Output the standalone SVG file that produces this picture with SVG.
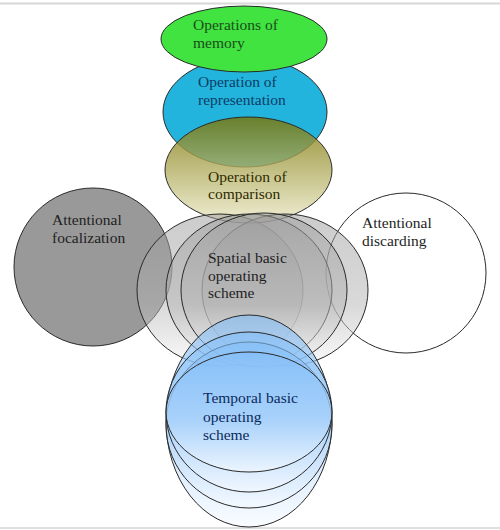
<svg xmlns="http://www.w3.org/2000/svg" width="500" height="530" viewBox="0 0 500 530">
<defs>
<linearGradient id="olive" x1="0" y1="0" x2="0" y2="1">
<stop offset="0" stop-color="#7a7300"/>
<stop offset="1" stop-color="#eceac8"/>
</linearGradient>
<linearGradient id="gray" x1="0" y1="0" x2="0" y2="1">
<stop offset="0" stop-color="#9a9a9a"/>
<stop offset="0.6" stop-color="#b4b4b4"/>
<stop offset="1" stop-color="#f4f4f4"/>
</linearGradient>
<linearGradient id="blue" x1="0" y1="0" x2="0" y2="1">
<stop offset="0" stop-color="#80bdf8"/>
<stop offset="0.55" stop-color="#a6d0fa"/>
<stop offset="1" stop-color="#f6faff"/>
</linearGradient>
</defs>
<style>
.o{stroke:#2a2a2a;stroke-width:1}
.t{font-family:"Liberation Serif","Times New Roman",serif;font-size:15.5px}
.g{fill:url(#gray);fill-opacity:0.5}
.b{fill:url(#blue);fill-opacity:0.6}
</style>
<rect width="500" height="530" fill="#ffffff"/>
<line x1="0" y1="3.5" x2="500" y2="3.5" stroke="#d8d8d8" stroke-width="2"/>
<line x1="0" y1="528" x2="500" y2="528" stroke="#e0e0e0" stroke-width="2"/>
<g id="connectors"></g>
<g id="representation">
<ellipse class="o" cx="245" cy="112" rx="82" ry="55" fill="#22b4dc"/>
<text class="t" fill="#0d3b66"><tspan x="198" y="87">Operation of</tspan><tspan x="198" y="105">representation</tspan></text>
</g>
<g id="memory">
<ellipse class="o" cx="244" cy="39" rx="83" ry="33" fill="#40e340"/>
<text class="t" fill="#1a4d1a"><tspan x="193" y="30">Operations of</tspan><tspan x="193" y="48">memory</tspan></text>
</g>
<g id="comparison">
<ellipse class="o" cx="248.5" cy="170" rx="83.5" ry="53" fill="url(#olive)" fill-opacity="0.8"/>
<text class="t" fill="#2e2b00"><tspan x="208" y="182">Operation of</tspan><tspan x="208" y="199">comparison</tspan></text>
</g>
<g id="focalization">
<circle class="o" cx="93" cy="267" r="79" fill="#999999"/>
<text class="t" fill="#1e1e1e"><tspan x="52" y="225">Attentional</tspan><tspan x="52" y="243">focalization</tspan></text>
</g>
<g id="discarding">
<circle class="o" cx="406" cy="273" r="80" fill="#ffffff"/>
<text class="t" fill="#1e1e1e"><tspan x="362" y="228">Attentional</tspan><tspan x="362" y="246">discarding</tspan></text>
</g>
<g id="spatial">
<ellipse class="o g" cx="220" cy="290" rx="83" ry="76"/>
<ellipse class="o g" cx="285" cy="290" rx="83" ry="76"/>
<ellipse class="o g" cx="249" cy="290" rx="83" ry="76"/>
<ellipse class="o g" cx="264" cy="290" rx="83" ry="77"/>
<text class="t" fill="#1e1e1e"><tspan x="208" y="263">Spatial basic</tspan><tspan x="208" y="281">operating</tspan><tspan x="208" y="298">scheme</tspan></text>
</g>
<g id="temporal">
<ellipse class="o b" cx="249" cy="421" rx="83" ry="106"/>
<ellipse class="o b" cx="249" cy="425" rx="83" ry="83"/>
<ellipse class="o b" cx="249" cy="412" rx="83" ry="80"/>
<ellipse class="o b" cx="249" cy="412" rx="83" ry="60"/>
<text class="t" fill="#0b2a5c"><tspan x="203" y="403">Temporal basic</tspan><tspan x="203" y="422">operating</tspan><tspan x="203" y="440">scheme</tspan></text>
</g>
</svg>
